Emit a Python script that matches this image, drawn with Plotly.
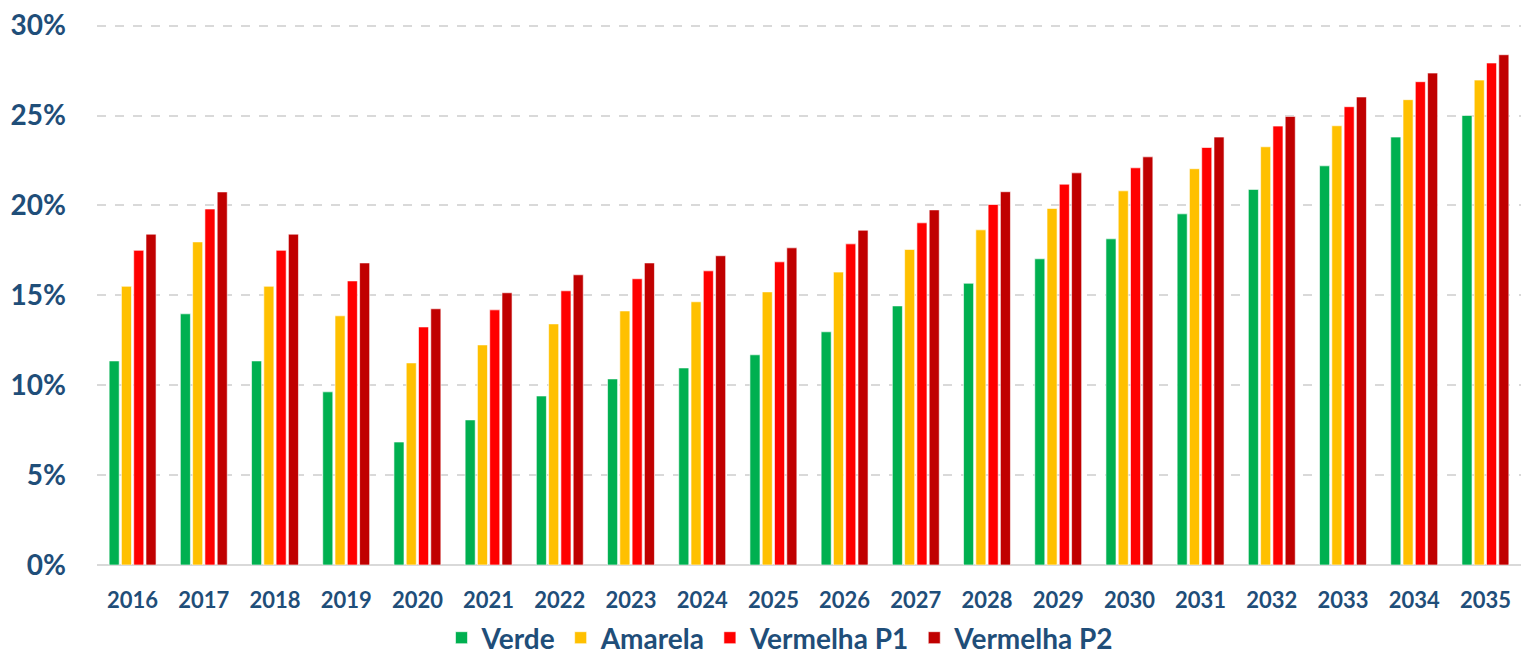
import plotly.graph_objects as go

years = [str(y) for y in range(2016, 2036)]
verde = [11.35, 13.97, 11.35, 9.63, 6.84, 8.07, 9.40, 10.35, 10.96, 11.69,
         12.97, 14.41, 15.67, 17.03, 18.14, 19.53, 20.89, 22.20, 23.80, 25.00]
amarela = [15.5, 17.97, 15.5, 13.86, 11.24, 12.24, 13.41, 14.13, 14.64, 15.19,
           16.29, 17.55, 18.64, 19.83, 20.81, 22.04, 23.26, 24.43, 25.88, 26.97]
vermelha_p1 = [17.5, 19.8, 17.5, 15.8, 13.24, 14.19, 15.25, 15.92, 16.36, 16.86,
               17.86, 19.03, 20.05, 21.18, 22.09, 23.22, 24.41, 25.49, 26.88, 27.92]
vermelha_p2 = [18.4, 20.75, 18.4, 16.8, 14.25, 15.14, 16.14, 16.8, 17.2, 17.64,
               18.62, 19.75, 20.76, 21.81, 22.70, 23.80, 24.95, 26.03, 27.36, 28.38]

series = [
    ("Verde", verde, "#00B050"),
    ("Amarela", amarela, "#FFC000"),
    ("Vermelha P1", vermelha_p1, "#FF0000"),
    ("Vermelha P2", vermelha_p2, "#C00000"),
]

txt = "#1F4E79"
font_family = "Lato, 'Open Sans', sans-serif"

fig = go.Figure()
for name, vals, col in series:
    fig.add_trace(go.Bar(
        x=years, y=vals, name=name,
        marker=dict(color=col, line=dict(color="rgba(255,255,255,0.6)", width=1)),
    ))

fig.update_layout(
    width=1513, height=655,
    margin=dict(l=89, r=0, t=14, b=98),
    paper_bgcolor="white", plot_bgcolor="white",
    barmode="group", bargap=0.31, bargroupgap=0.18,
    font=dict(family=font_family, color=txt),
    showlegend=True,
    legend=dict(orientation="h", x=0.48, xanchor="center",
                yref="container", y=0.0, yanchor="bottom",
                font=dict(size=28, color=txt, family=font_family, weight="bold"),
                itemwidth=30, traceorder="normal"),
)
fig.update_xaxes(
    type="category", range=[-0.5, 19.5], automargin=False,
    tickfont=dict(size=22, color=txt, family=font_family, weight="bold"),
    showgrid=False, showline=False, ticks="", ticklabelstandoff=20,
    ticklabeloverflow="allow",
)
fig.update_yaxes(
    range=[0, 30.2], tickvals=[0, 5, 10, 15, 20, 25, 30], automargin=False,
    ticktext=["0%", "5%", "10%", "15%", "20%", "25%", "30%"],
    tickfont=dict(size=28, color=txt, family=font_family, weight="bold"),
    showgrid=True, gridcolor="#D9D9D9", griddash="dash", gridwidth=2,
    zeroline=True, zerolinecolor="#D9D9D9", zerolinewidth=2,
    ticks="", ticklabelstandoff=30, ticklabeloverflow="allow",
)

fig.write_html("out.html")
